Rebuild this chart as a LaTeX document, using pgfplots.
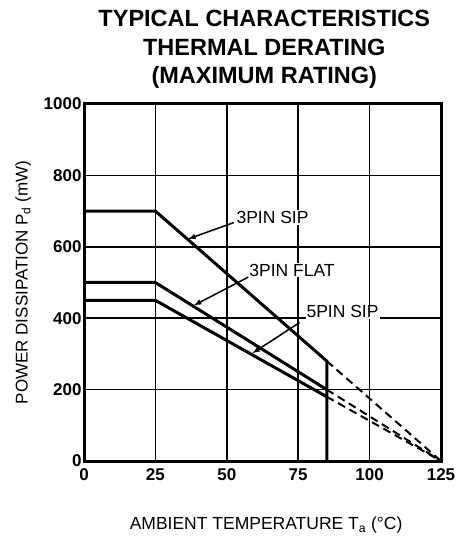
\documentclass[border=0pt]{standalone}
\usepackage{fontspec}
\setmainfont{Liberation Sans}
\usepackage{pgfplots}
\pgfplotsset{compat=1.18}
\begin{document}
\begin{tikzpicture}[x=1pt,y=1pt]
\path[use as bounding box] (0,0) rectangle (461,541);
\begin{axis}[
  at={(84pt,80pt)}, anchor=south west,
  scale only axis, width=357pt, height=357pt,
  xmin=0, xmax=125, ymin=0, ymax=1000,
  xtick={0,25,...,125}, ytick={0,200,...,1000},
  grid=major, major grid style={black, line width=1.6pt},
  axis line style={line width=3pt},
  tick style={draw=none},
  /pgf/number format/assume math mode=true,
  /pgf/number format/1000 sep={},
  ticklabel style={font=\bfseries\fontsize{17}{17}\selectfont},
  xticklabel style={yshift=-4pt},
  yticklabel style={xshift=1pt},
  title={TYPICAL CHARACTERISTICS\\THERMAL DERATING\\(MAXIMUM RATING)},
  title style={align=center, font=\bfseries\fontsize{23.5}{28.5}\selectfont,
    at={(axis description cs:0.505,1.255)}, anchor=north},
  xlabel={AMBIENT TEMPERATURE T\textsubscript{a} (°C)},
  xlabel style={font=\fontsize{17.5}{17.5}\selectfont,
    at={(axis description cs:0.51,-0.18)}, anchor=center},
  ylabel={POWER DISSIPATION P\textsubscript{d} (mW)},
  ylabel style={font=\fontsize{17}{17}\selectfont,
    at={(axis description cs:-0.17,0.5)}, anchor=center, rotate=0},
]
% solid derating curves
\addplot[black, line width=3pt, line join=miter] coordinates {(0,700) (25,700) (85,280) (85,0)};
\addplot[black, line width=3pt] coordinates {(0,500) (25,500) (85,200)};
\addplot[black, line width=3pt] coordinates {(0,450) (25,450) (85,180)};
% dashed extensions
\addplot[black, line width=2pt, dash pattern=on 8pt off 5pt] coordinates {(85,280) (125,0)};
\addplot[black, line width=2pt, dash pattern=on 8pt off 5pt] coordinates {(85,200) (125,0)};
\addplot[black, line width=2pt, dash pattern=on 8pt off 5pt] coordinates {(85,180) (125,0)};
% labels with arrows
\node[fill=white, inner sep=1pt, anchor=west, font=\fontsize{17.5}{17.5}\selectfont] at (axis cs:53,682) {3PIN SIP};
\draw[-latex, line width=1.5pt] (axis cs:52.5,668) -- (axis cs:36.5,622);
\node[fill=white, inner sep=1pt, anchor=west, font=\fontsize{17.5}{17.5}\selectfont] at (axis cs:57.5,535) {3PIN FLAT};
\draw[-latex, line width=1.5pt] (axis cs:57.5,515) -- (axis cs:38.5,436);
\node[fill=white, inner sep=1pt, anchor=west, font=\fontsize{17.5}{17.5}\selectfont] at (axis cs:77.5,418) {5PIN SIP};
\draw[-latex, line width=1.5pt] (axis cs:75.5,388) -- (axis cs:59,302);
\end{axis}
\end{tikzpicture}
\end{document}
